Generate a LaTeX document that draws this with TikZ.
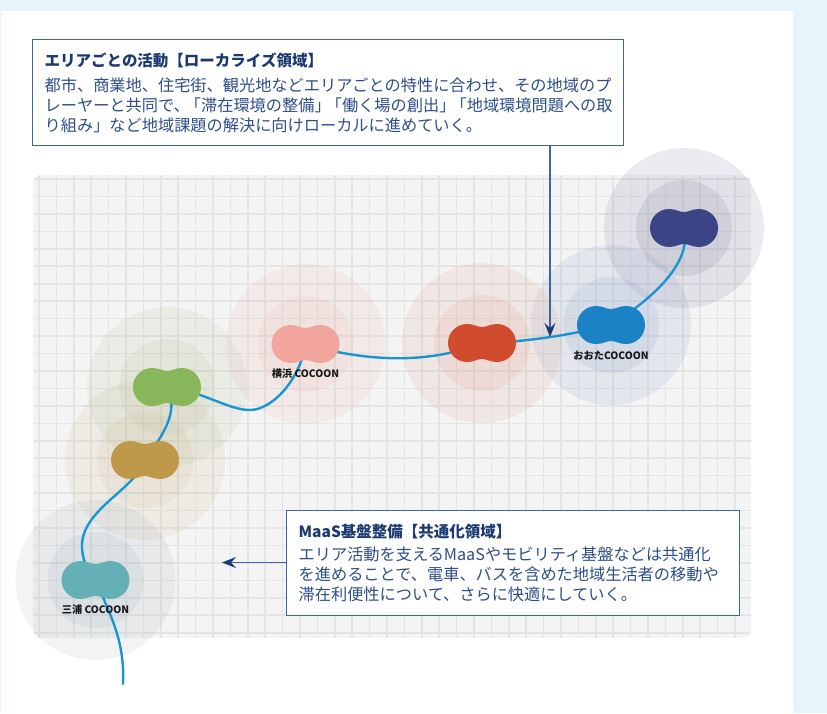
\documentclass[tikz,border=0pt]{standalone}
\usepackage{fontspec}
\setmainfont{Noto Sans CJK JP}
\usetikzlibrary{arrows.meta}
\definecolor{bgblue}{HTML}{E8F4FC}
\definecolor{gridfill}{HTML}{F4F4F4}
\definecolor{gridline}{HTML}{E5E5E5}
\definecolor{routec}{HTML}{1A95D3}
\definecolor{boxline}{HTML}{3D63A0}
\definecolor{titlec}{HTML}{1C3A72}
\definecolor{bodyc}{HTML}{2E4E8A}
\definecolor{arrowline}{HTML}{41649E}
\definecolor{arrowhead}{HTML}{1B3A78}
\definecolor{navyB}{HTML}{3B4585}
\definecolor{blueB}{HTML}{1B82C5}
\definecolor{redB}{HTML}{D14B2F}
\definecolor{pinkB}{HTML}{F2A59D}
\definecolor{greenB}{HTML}{87B65B}
\definecolor{goldB}{HTML}{C0984A}
\definecolor{tealB}{HTML}{65AFB6}
\definecolor{navyH}{HTML}{5B5A8C}
\definecolor{blueH}{HTML}{6F8CC0}
\definecolor{redH}{HTML}{D8876E}
\definecolor{pinkH}{HTML}{EBA59E}
\definecolor{greenH}{HTML}{A3B886}
\definecolor{goldH}{HTML}{C8AE7E}
\definecolor{tealH}{HTML}{8CA0AC}
\tikzset{
  pics/blob/.style={code={
    \fill[#1] (0,-16) .. controls (-5,-16) and (-8,-19) .. (-15,-19)
      arc[start angle=-90,end angle=-270,radius=19]
      .. controls (-8,19) and (-5,16) .. (0,16)
      .. controls (5,16) and (8,19) .. (15,19)
      arc[start angle=90,end angle=-90,radius=19]
      .. controls (8,-19) and (5,-16) .. (0,-16) -- cycle;}},
  halo/.style={fill=#1, fill opacity=0.12},
  gridln/.style={draw=gridline, line width=1.6pt},
  route/.style={draw=routec, line width=2.4pt, line cap=round},
  infobox/.style={draw=boxline, line width=1.3pt, fill=white, align=left,
    anchor=north west, inner xsep=12pt, inner ysep=0pt, text=bodyc,
    font=\fontsize{16.2}{19.8}\selectfont},
  cocoon/.style={font=\fontsize{10.2}{11}\selectfont\bfseries, text=black!90, inner sep=0pt},
  pointer/.style={draw=arrowline, line width=1.2pt,
    -{Stealth[length=14pt,width=11pt,inset=5pt,color=arrowhead]}}
}
\begin{document}
\begin{tikzpicture}[x=1pt,y=-1pt]
\useasboundingbox (0,0) rectangle (827,713);
\fill[bgblue] (0,0) rectangle (827,713);
\fill[white] (1,11) rectangle (793,713);
% grid
\begin{scope}
  \clip[rounded corners=8pt] (33,175) rectangle (751,638);
  \fill[gridfill] (33,175) rectangle (751,638);
  \foreach \i in {0,...,40} \draw[gridln] ({39+17.4*\i},175) -- ++(0,463);
  \foreach \j in {0,...,26} \draw[gridln] (33,{179+17.45*\j}) -- ++(718,0);
\end{scope}
% blob centres
\coordinate (navy) at (684,228);
\coordinate (blue) at (611,325);
\coordinate (red) at (482,343);
\coordinate (pink) at (305.5,344);
\coordinate (green) at (167,387);
\coordinate (gold) at (145,460);
\coordinate (teal) at (95.5,580);
\coordinate (bendA) at (250,410);
\coordinate (bendB) at (82,548);
\coordinate (tail) at (123,684);
% halos
\foreach \c/\h in {navy/navyH,blue/blueH,red/redH,pink/pinkH,green/greenH,gold/goldH,teal/tealH}{
  \fill[halo=\h] (\c) circle[radius=80];
  \fill[halo=\h] (\c) circle[radius=48];
}
% route
\draw[route] (navy) .. controls (692,262) and (655,297) .. (blue)
  .. controls (565,336) and (525,342) .. (red)
  .. controls (440,360) and (380,366) .. (pink)
  .. controls (300,380) and (272,410) .. (bendA)
  .. controls (228,410) and (205,392) .. (green)
  .. controls (180,412) and (162,436) .. (gold)
  .. controls (135,490) and (80,510) .. (bendB)
  .. controls (83,565) and (90,572) .. (teal)
  .. controls (110,615) and (125,640) .. (tail);
% blobs
\pic at (navy) {blob=navyB};
\pic at (blue) {blob=blueB};
\pic at (red) {blob=redB};
\pic at (pink) {blob=pinkB};
\pic at (green) {blob=greenB};
\pic at (gold) {blob=goldB};
\pic at (teal) {blob=tealB};
% labels
\node[cocoon] (lyoko) at (305.5,374) {横浜 COCOON};
\node[cocoon] (lota) at (611,355.5) {おおたCOCOON};
\node[cocoon] (lmiura) at (95.5,610) {三浦 COCOON};
% boxes
\node[infobox, text width=567pt, minimum width=591pt, minimum height=106pt] (topbox) at (32,39)
 {{\fontsize{15.5}{19.8}\selectfont\bfseries\color{titlec}エリアごとの活動【ローカライズ領域】}\\[5.2pt]
  都市、商業地、住宅街、観光地などエリアごとの特性に合わせ、その地域のプ\\
  レーヤーと共同で、\kern-0.3em「滞在環境の整備」\kern-0.3em「働く場の創出」\kern-0.3em「地域環境問題への取\\
  り組み」など地域課題の解決に向けローカルに進めていく。};
\node[infobox, text width=429pt, minimum width=453pt, minimum height=105pt] (botbox) at (286,510)
 {{\fontsize{15.5}{19.8}\selectfont\bfseries\color{titlec}MaaS基盤整備【共通化領域】}\\[2.7pt]
  エリア活動を支えるMaaSやモビリティ基盤などは共通化\\
  を進めることで、電車、バスを含めた地域生活者の移動や\\
  滞在利便性について、さらに快適にしていく。};
% pointers
\coordinate (tipA) at (550,337);
\coordinate (tipB) at (222,562.5);
\draw[pointer] (topbox.south -| tipA) -- (tipA);
\draw[pointer] (botbox.west |- tipB) -- (tipB);
\end{tikzpicture}
\end{document}
